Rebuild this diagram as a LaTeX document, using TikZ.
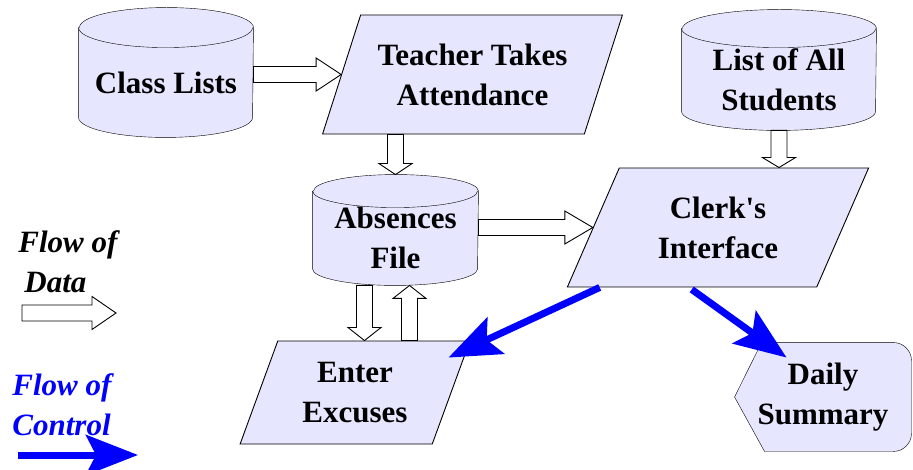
\documentclass[tikz,border=0pt]{standalone}
\usepackage{fontspec}
\setmainfont{Liberation Serif}
\usetikzlibrary{shapes.geometric,arrows.meta,calc,backgrounds}

\definecolor{boxfill}{RGB}{230,230,255}

\tikzset{
  datastore/.style={rectangle, align=center},
  process/.style={trapezium, trapezium left angle=64, trapezium right angle=116,
    trapezium stretches=true, draw, fill=boxfill, align=center},
  summary/.style={rectangle, align=center},
  legend/.style={align=left, inner sep=0pt, font=\fontsize{31}{40}\selectfont\bfseries\itshape},
  % hollow block arrow, #1 = head length
  dataflow/.style={draw, fill=white, to path={
    ($(\tikztostart)!8pt!90:(\tikztotarget)$)
    -- ($(\tikztotarget)!#1!(\tikztostart)!8pt!-90:(\tikztostart)$)
    -- ($(\tikztotarget)!#1!(\tikztostart)!16.5pt!-90:(\tikztostart)$)
    -- (\tikztotarget)
    -- ($(\tikztotarget)!#1!(\tikztostart)!16.5pt!90:(\tikztostart)$)
    -- ($(\tikztotarget)!#1!(\tikztostart)!8pt!90:(\tikztostart)$)
    -- ($(\tikztostart)!8pt!-90:(\tikztotarget)$)
    -- cycle}},
  dataflow/.default=25pt,
  ctrlflow/.style={draw=blue, line width=7pt, -{Stealth[length=52pt, width=40pt, inset=10pt]}}
}

% drum outline behind a datastore node: node, x radius, y radius
\newcommand\drum[3]{%
  \begin{scope}[on background layer]
    \filldraw[fill=boxfill] (#1.north west) -- ([yshift=#3pt]#1.south west)
      arc[start angle=180, end angle=360, x radius=#2pt, y radius=#3pt]
      -- (#1.north east)
      arc[start angle=0, end angle=180, x radius=#2pt, y radius=#3pt] -- cycle;
    \draw (#1.north west) arc[start angle=180, end angle=360, x radius=#2pt, y radius=#3pt];
  \end{scope}}

\begin{document}
\begin{tikzpicture}[x=1pt, y=-1pt, line width=0.9pt, font=\fontsize{31}{40}\selectfont\bfseries]
  \useasboundingbox (0,0) rectangle (913,470);

  % stores and processes
  \node[datastore, minimum width=174, minimum height=109] (cls) at (166,82.5) {Class Lists};
  \node[process, minimum width=301, minimum height=119] (tta) at (472.5,74.5) {Teacher Takes\\Attendance};
  \node[datastore, minimum width=194, minimum height=101] (lst) at (779,79.5) {List of All\\Students};
  \node[datastore, minimum width=165, minimum height=93.5] (abs) at (395.5,238.25) {Absences\\File};
  \node[process, minimum width=302, minimum height=119] (clk) at (718,227.5) {Clerk\textquotesingle s\\Interface};
  \node[process, trapezium left angle=68, trapezium right angle=112,
    minimum width=230, minimum height=103] (ent) at (355,392.5) {Enter\\Excuses};
  \node[summary, minimum width=176, minimum height=108] (sum) at (823,397) {Daily\\Summary};
  \drum{cls}{87}{20}
  \drum{lst}{97}{19}
  \drum{abs}{82.5}{16.5}
  \begin{scope}[on background layer]
    \filldraw[fill=boxfill] (sum.west) -- ([xshift=27pt]sum.north west)
      -- ([xshift=-18pt]sum.north east) arc[start angle=90, end angle=0, radius=18pt]
      -- ([yshift=18pt]sum.south east) arc[start angle=0, end angle=-90, radius=18pt]
      -- ([xshift=30pt]sum.south west) -- cycle;
  \end{scope}

  % legend
  \node[legend, anchor=north west] (dat) at (18,230) {Flow of\\\hspace*{6pt}Data};
  \node[legend, text=blue, anchor=north west] (ctl) at (12,373) {Flow of\\Control};
  \coordinate (dl-a) at (22,313);
  \coordinate (dl-b) at (116,313);
  \coordinate (cl-a) at (18,455);
  \coordinate (cl-b) at (138,455);
  \draw[dataflow=24pt] (dl-a) to (dl-b);
  \draw[ctrlflow] (cl-a) -- (cl-b);

  % flow of data
  \coordinate (abs-top) at ([yshift=16.5pt]abs.north);
  \coordinate (abs-out) at ($(abs.south)+(-31,0)$);
  \coordinate (abs-in) at ($(abs.south)+(14,0)$);
  \draw[dataflow] (cls.east |- tta.west) to (tta.west);
  \draw[dataflow=11pt] (abs-top |- tta.south) to (abs-top);
  \draw[dataflow=28pt] (abs.east |- clk.west) to (clk.west);
  \draw[dataflow=10pt] (lst.south) to (lst.south |- clk.north);
  \draw[dataflow=13pt] (abs-out) to (abs-out |- ent.north);
  \draw[dataflow=13pt] (abs-in |- ent.north) to (abs-in);

  % flow of control
  \coordinate (ent-in) at ($(ent.top right corner)+(-22,17)$);
  \coordinate (sum-in) at ($(sum.north west)+(52,15)$);
  \draw[ctrlflow] ($(clk.bottom left corner)+(33,0)$) -- (ent-in);
  \draw[ctrlflow] ($(clk.bottom left corner)+(125,2)$) -- (sum-in);
\end{tikzpicture}
\end{document}
